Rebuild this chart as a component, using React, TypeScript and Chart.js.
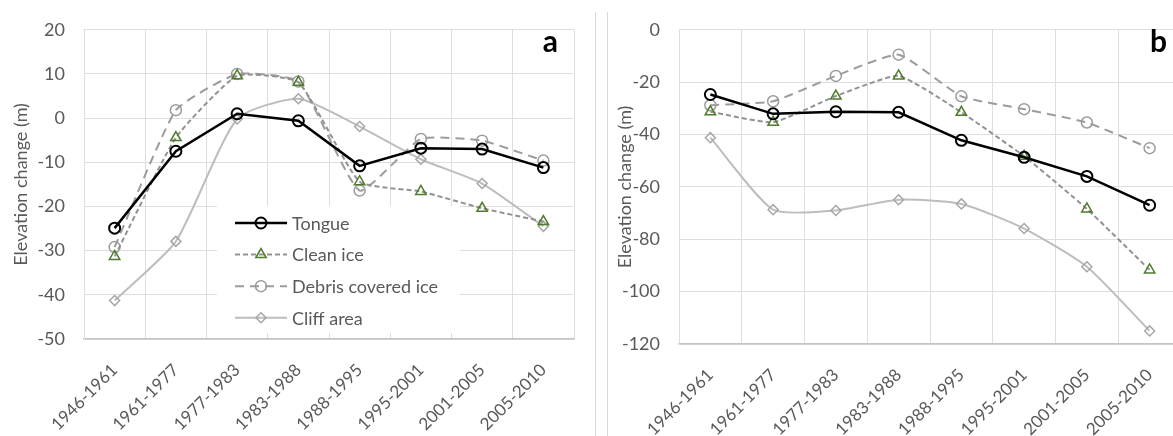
import React, { useEffect, useRef } from "react";
import { Chart, registerables } from "chart.js";

Chart.register(...registerables);

// ---------- data ----------
const periods = [
  "1946-1961",
  "1961-1977",
  "1977-1983",
  "1983-1988",
  "1988-1995",
  "1995-2001",
  "2001-2005",
  "2005-2010",
];
const seriesNames = ["Tongue", "Clean ice", "Debris covered ice", "Cliff area"];

const tongueA = [-24.9, -7.5, 1.0, -0.6, -10.8, -6.8, -7.0, -11.2];
const cleanA = [-31.3, -4.4, 9.6, 8.1, -14.4, -16.6, -20.4, -23.4];
const debrisA = [-29.2, 1.8, 10.0, 8.3, -16.4, -4.7, -5.1, -9.6];
const cliffA = [-41.3, -27.9, -0.2, 4.4, -1.9, -9.3, -14.8, -24.5];

const tongueB = [-24.7, -32.1, -31.3, -31.5, -42.2, -48.7, -56.0, -67.0];
const cleanB = [-31.3, -35.3, -25.3, -17.6, -31.5, -48.3, -68.4, -91.7];
const debrisB = [-28.8, -27.3, -17.6, -9.5, -25.4, -30.3, -35.4, -45.2];
const cliffB = [-41.2, -68.7, -69.0, -64.9, -66.5, -75.9, -90.5, -115.0];

const yAxisA = { min: -50, max: 20, step: 10 };
const yAxisB = { min: -120, max: 0, step: 20 };
const yTitle = "Elevation change (m)";

// ---------- styles ----------
const FONT = "Lato";
const TEXT_GRAY = "#595959";
const GRID = "#dedede";

const seriesStyles = [
  {
    borderColor: "#000000",
    borderWidth: 2.5,
    borderDash: [] as number[],
    pointStyle: "circle",
    pointRadius: 5.5,
    pointBorderColor: "#000000",
    pointBorderWidth: 2,
    tension: 0,
  },
  {
    borderColor: "#929292",
    borderWidth: 2,
    borderDash: [5, 3],
    pointStyle: "triangle",
    pointRadius: 6,
    pointBorderColor: "#4f7b2a",
    pointBorderWidth: 1.5,
    tension: 0.15,
  },
  {
    borderColor: "#9c9c9c",
    borderWidth: 2,
    borderDash: [9, 6],
    pointStyle: "circle",
    pointRadius: 5.5,
    pointBorderColor: "#9c9c9c",
    pointBorderWidth: 1.5,
    tension: 0.15,
  },
  {
    borderColor: "#bdbdbd",
    borderWidth: 2,
    borderDash: [] as number[],
    pointStyle: "rectRot",
    pointRadius: 5,
    pointBorderColor: "#a6a6a6",
    pointBorderWidth: 1.5,
    tension: 0.2,
  },
];

function makeDatasets(values: number[][]) {
  return values.map((v, i) => ({
    label: seriesNames[i],
    data: v,
    ...seriesStyles[i],
    pointBackgroundColor: "rgba(255,255,255,0)",
    backgroundColor: "rgba(255,255,255,0)",
    fill: false,
  }));
}

function drawMarker(ctx: CanvasRenderingContext2D, style: string, x: number, y: number, r: number) {
  ctx.beginPath();
  if (style === "circle") {
    ctx.arc(x, y, r, 0, Math.PI * 2);
  } else if (style === "triangle") {
    const h = r * 1.5;
    ctx.moveTo(x, y - r);
    ctx.lineTo(x + r * 0.866, y + h - r);
    ctx.lineTo(x - r * 0.866, y + h - r);
    ctx.closePath();
  } else {
    ctx.moveTo(x, y - r);
    ctx.lineTo(x + r, y);
    ctx.lineTo(x, y + r);
    ctx.lineTo(x - r, y);
    ctx.closePath();
  }
  ctx.stroke();
}

const overlayPlugin = {
  id: "overlay",
  afterDraw(chart: any, _args: any, opts: any) {
    const ctx: CanvasRenderingContext2D = chart.ctx;
    const area = chart.chartArea;
    if (opts.legend) {
      const L = opts.legend;
      ctx.save();
      ctx.fillStyle = "#ffffff";
      ctx.fillRect(L.x, L.y, L.w, L.h);
      chart.data.datasets.forEach((ds: any, i: number) => {
        const cy = L.firstRow + i * L.rowGap;
        ctx.save();
        ctx.strokeStyle = ds.borderColor;
        ctx.lineWidth = ds.borderWidth;
        ctx.setLineDash(ds.borderDash || []);
        ctx.beginPath();
        ctx.moveTo(L.lineX0, cy);
        ctx.lineTo(L.lineX1, cy);
        ctx.stroke();
        ctx.setLineDash([]);
        ctx.strokeStyle = ds.pointBorderColor;
        ctx.lineWidth = ds.pointBorderWidth;
        drawMarker(ctx, ds.pointStyle, (L.lineX0 + L.lineX1) / 2, cy, ds.pointRadius);
        ctx.restore();
        ctx.fillStyle = TEXT_GRAY;
        ctx.font = `18px ${FONT}`;
        ctx.textBaseline = "middle";
        ctx.textAlign = "left";
        ctx.fillText(ds.label, L.textX, cy + 1);
      });
      ctx.restore();
    }
    if (opts.letter) {
      ctx.save();
      ctx.fillStyle = "#000000";
      ctx.font = `bold 30px ${FONT}`;
      ctx.textAlign = "right";
      ctx.textBaseline = "alphabetic";
      ctx.fillText(opts.letter, area.right - opts.letterInset, 52);
      ctx.restore();
    }
  },
};

function buildConfig(
  values: number[][],
  yAxis: { min: number; max: number; step: number },
  geom: { padRight: number; yWidth: number; xHeight: number; titlePad: number },
  overlay: any
) {
  return {
    type: "line" as const,
    data: { labels: periods, datasets: makeDatasets(values) },
    plugins: [overlayPlugin],
    options: {
      responsive: false,
      animation: false as const,
      devicePixelRatio: 1,
      layout: { padding: { left: 0, right: geom.padRight, top: 23, bottom: 0 } },
      plugins: {
        legend: { display: false },
        tooltip: { enabled: false },
        overlay,
      },
      scales: {
        x: {
          type: "category" as const,
          offset: true,
          grid: { offset: true, color: GRID, drawTicks: false, lineWidth: 1 },
          border: { color: "#c4c4c4", width: 1.5 },
          ticks: {
            autoSkip: false,
            minRotation: 45,
            maxRotation: 45,
            padding: 21,
            color: TEXT_GRAY,
            font: { family: FONT, size: 17 },
          },
          afterFit: (s: any) => {
            s.height = geom.xHeight;
          },
        },
        y: {
          min: yAxis.min,
          max: yAxis.max,
          grid: { color: GRID, drawTicks: false, lineWidth: 1 },
          border: { color: GRID },
          ticks: {
            stepSize: yAxis.step,
            padding: 19,
            color: TEXT_GRAY,
            font: { family: FONT, size: 18 },
          },
          title: {
            display: true,
            text: yTitle,
            color: TEXT_GRAY,
            font: { family: FONT, size: 18 },
            padding: { top: geom.titlePad, bottom: 0 },
          },
          afterFit: (s: any) => {
            s.width = geom.yWidth;
          },
        },
      },
    },
  };
}

function ChartCanvas(props: { config: any; width: number; height: number; left: number }) {
  const ref = useRef<HTMLCanvasElement | null>(null);
  useEffect(() => {
    if (!ref.current) return;
    const chart = new Chart(ref.current, props.config);
    let alive = true;
    if ((document as any).fonts && (document as any).fonts.ready) {
      (document as any).fonts.ready.then(() => {
        if (alive) chart.update();
      });
    }
    return () => {
      alive = false;
      chart.destroy();
    };
  }, []);
  return (
    <canvas
      ref={ref}
      width={props.width}
      height={props.height}
      style={{ position: "absolute", left: props.left, top: 0, width: props.width, height: props.height }}
    />
  );
}

export default function App() {
  const configA = buildConfig(
    [tongueA, cleanA, debrisA, cliffA],
    yAxisA,
    { padRight: 16, yWidth: 84, xHeight: 97, titlePad: 10 },
    {
      letter: "a",
      letterInset: 16,
      legend: { x: 217, y: 206, w: 243, h: 127, lineX0: 235, lineX1: 287, textX: 292, firstRow: 223, rowGap: 31.6 },
    }
  );
  const configB = buildConfig(
    [tongueB, cleanB, debrisB, cliffB],
    yAxisB,
    { padRight: 15, yWidth: 83, xHeight: 92, titlePad: 18 },
    { letter: "b", letterInset: 14 }
  );
  return (
    <div
      style={{
        position: "absolute",
        left: 0,
        top: 0,
        width: 1173,
        height: 436,
        overflow: "hidden",
        background: "#ffffff",
      }}
    >
      <ChartCanvas config={configA} width={590} height={436} left={0} />
      <ChartCanvas config={configB} width={600} height={436} left={596} />
      <div style={{ position: "absolute", left: 595, top: 12, width: 1, height: 424, background: "#d9d9d9" }} />
      <div style={{ position: "absolute", left: 607, top: 12, width: 1, height: 424, background: "#d9d9d9" }} />
    </div>
  );
}
